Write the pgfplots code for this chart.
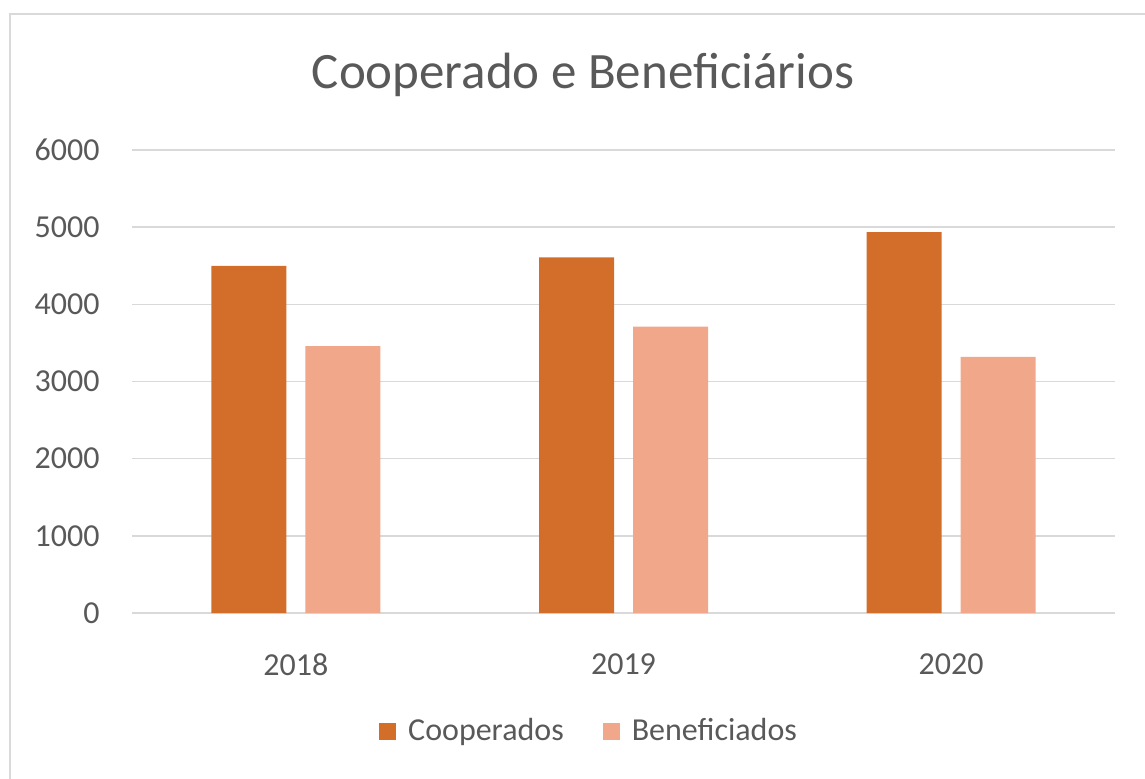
\documentclass[border=0pt]{standalone}
\usepackage{pgfplots}
\pgfplotsset{compat=1.18}
\usepackage{fontspec}
\setmainfont{Carlito}
\definecolor{coop}{HTML}{D26E2A}
\definecolor{benef}{HTML}{F1A78A}
\definecolor{txt}{HTML}{595959}
\definecolor{grd}{HTML}{D9D9D9}
\begin{document}
\begin{tikzpicture}
\useasboundingbox (-66pt,-82.5pt) rectangle (506.5pt,306.5pt);
\draw[grd, line width=1pt] (-61pt,-100pt) -- (-61pt,299.5pt) -- (520pt,299.5pt);
\begin{axis}[
  at={(0pt,0pt)}, anchor=south west,
  scale only axis,
  width=491.5pt, height=231.5pt,
  xmin=-0.5, xmax=2.5,
  ymin=0, ymax=6000,
  ytick={0,1000,...,6000},
  xtick={0,1,2},
  xticklabels={2018,2019,2020},
  ymajorgrids,
  grid style={grd, line width=0.75pt},
  axis line style={draw=none},
  tick style={draw=none},
  /pgf/number format/assume math mode=true,
  /pgf/number format/1000 sep={},
  ticklabel style={font=\fontsize{16}{19}\selectfont, text=txt},
  yticklabel style={anchor=east, inner sep=0pt, xshift=-16pt},
  xticklabel style={anchor=north, inner sep=0pt, yshift=-16pt},
  title={Cooperado e Beneficiários},
  title style={at={(axis description cs:0.4588,1)}, anchor=base, yshift=25pt, inner sep=0pt,
    font=\fontsize{25.5}{30}\selectfont, text=txt},
  ybar, bar width=37.5pt,
  legend style={at={(axis description cs:0.466,-0.255)}, anchor=center, draw=none,
    font=\fontsize{16}{19}\selectfont, text=txt, legend columns=2,
    /tikz/every odd column/.append style={column sep=4pt},
    /tikz/every even column/.append style={column sep=17.5pt}},
  legend image code/.code={\fill[#1] (0pt,-4.25pt) rectangle (8.5pt,4.25pt);},
]
\addplot[fill=coop, draw=none, bar shift=-23.5pt] coordinates {(0,4500) (1,4610) (2,4935)};
\addplot[fill=benef, draw=none, bar shift=23.5pt] coordinates {(0,3460) (1,3710) (2,3320)};
\legend{Cooperados, Beneficiados}
\end{axis}
\end{tikzpicture}
\end{document}
